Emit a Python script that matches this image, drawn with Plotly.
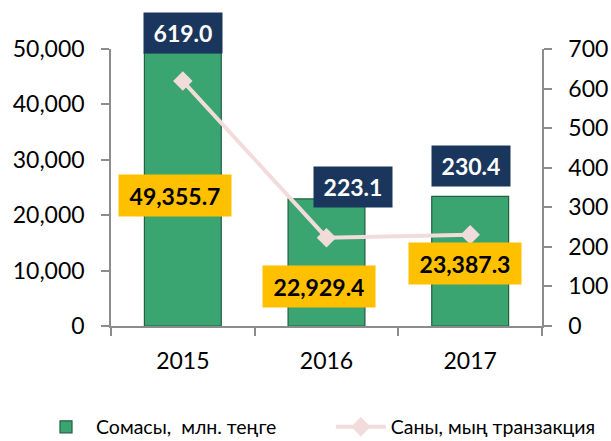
import plotly.graph_objects as go

# Data
years = ["2015", "2016", "2017"]
amount = [49355.7, 22929.4, 23387.3]      # Сомасы, млн. теңге
count = [619.0, 223.1, 230.4]             # Саны, мың транзакция

amount_labels = [f"{v:,.1f}" for v in amount]
count_labels = [f"{v:.1f}" for v in count]

FONT = "Lato"
GREEN = "#3aa571"
GREEN_EDGE = "#22603f"
PINK = "#f2dcdb"
NAVY = "#1b365d"
YELLOW = "#ffc000"
AXIS = "#8c8c8c"

# pixel offsets of the value boxes relative to their anchor
count_shift = [(0, 48), (26, 51), (1, 69)]
amount_shift = [(-8, -6), (-8, -24), (-5, -2)]

fig = go.Figure()
fig.add_trace(go.Bar(
    x=years, y=amount, name="Сомасы,  млн. теңге",
    width=0.535, marker=dict(color=GREEN, line=dict(color=GREEN_EDGE, width=1.2)),
    yaxis="y", legend="legend",
))
fig.add_trace(go.Scatter(
    x=years, y=count, name="Саны, мың транзакция", yaxis="y2",
    mode="lines+markers",
    line=dict(color=PINK, width=4),
    marker=dict(symbol="diamond", size=15, color=PINK),
    legend="legend2",
))

for i, (v, txt, (dx, dy)) in enumerate(zip(count, count_labels, count_shift)):
    fig.add_annotation(
        x=i, y=v, xref="x", yref="y2", text="<b>" + txt + "</b>",
        showarrow=False, xshift=dx, yshift=dy,
        width=78, height=40, borderpad=0, bgcolor=NAVY,
        font=dict(family=FONT, size=23, color="white"),
    )
for i, (v, txt, (dx, dy)) in enumerate(zip(amount, amount_labels, amount_shift)):
    fig.add_annotation(
        x=i, y=v / 2, xref="x", yref="y", text="<b>" + txt + "</b>",
        showarrow=False, xshift=dx, yshift=dy,
        width=112, height=41, borderpad=0, bgcolor=YELLOW,
        font=dict(family=FONT, size=23, color="black"),
    )

tick_style = dict(ticklen=8, tickwidth=1.5, tickcolor=AXIS, showgrid=False)
legend_style = dict(
    orientation="h", xanchor="left", y=-0.365, yanchor="middle",
    font=dict(family=FONT, size=19.5), itemwidth=50, bgcolor="rgba(0,0,0,0)",
)

fig.update_layout(
    width=611, height=441,
    margin=dict(l=111, r=69, t=49, b=115, autoexpand=False),
    paper_bgcolor="white", plot_bgcolor="white",
    font=dict(family=FONT, size=23, color="black"),
    xaxis=dict(
        type="category", range=[-0.5, 2.5], tickson="boundaries", ticks="outside",
        showline=True, linecolor=AXIS, linewidth=1.5,
        ticklabelstandoff=14, tickfont=dict(size=23), **tick_style,
    ),
    yaxis=dict(
        range=[0, 50000], dtick=10000, tickformat=",", ticks="outside",
        showline=True, linecolor=AXIS, linewidth=1.5, zeroline=False,
        ticklabelstandoff=12, tickfont=dict(size=23), **tick_style,
    ),
    yaxis2=dict(
        range=[0, 700], dtick=100, overlaying="y", side="right", ticks="outside",
        showline=True, linecolor=AXIS, linewidth=1.5, zeroline=False,
        ticklabelstandoff=12, tickfont=dict(size=23), **tick_style,
    ),
    legend=dict(x=-0.174, **legend_style),
    legend2=dict(x=0.51, **legend_style),
    showlegend=True,
)

fig.write_html("out.html")
